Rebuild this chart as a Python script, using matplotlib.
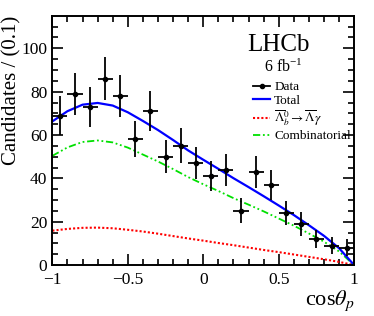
import numpy as np
import matplotlib
matplotlib.use("Agg")
import matplotlib.pyplot as plt
from matplotlib.lines import Line2D

plt.rcParams['font.family'] = ['Liberation Serif', 'DejaVu Serif']
plt.rcParams['mathtext.fontset'] = 'stix'

# --- data: 20 bins of width 0.1 ---
bin_centres = [-0.95, -0.85, -0.75, -0.65, -0.55, -0.45, -0.35, -0.25, -0.15, -0.05,
               0.05, 0.15, 0.25, 0.35, 0.45, 0.55, 0.65, 0.75, 0.85, 0.95]
counts = [69, 79, 73, 86, 78, 58, 71, 50, 55, 47,
          41, 44, 25, 43, 37, 24, 19, 12, 9, 8]
count_err = [9.2, 9.6, 9.3, 10.0, 9.6, 8.3, 9.2, 7.5, 8.1, 7.3,
             6.8, 7.4, 5.8, 7.4, 6.8, 5.6, 5.5, 4.2, 3.8, 4.0]
bin_half = [0.05] * 20

curve_x = [-1.0, -0.9, -0.8, -0.7, -0.6, -0.5, -0.4, -0.3, -0.2, -0.1,
           0.0, 0.1, 0.2, 0.3, 0.4, 0.5, 0.6, 0.7, 0.8, 0.9, 1.0]
total_fit = [66.3, 71.0, 74.0, 74.8, 73.6, 70.5, 66.5, 62.3, 57.7, 52.9,
             48.6, 44.4, 40.1, 36.0, 31.8, 27.5, 23.1, 18.4, 13.5, 7.8, 0.0]
signal_fit = [15.9, 16.7, 17.2, 17.3, 17.0, 16.3, 15.5, 14.5, 13.4, 12.3,
              11.3, 10.2, 9.2, 8.1, 7.0, 6.0, 4.9, 3.8, 2.7, 1.5, 0.0]
comb_fit = [50.4, 54.3, 56.8, 57.5, 56.6, 54.2, 51.0, 47.8, 44.3, 40.6,
            37.3, 34.2, 30.9, 27.9, 24.8, 21.5, 18.2, 14.6, 10.8, 6.3, 0.0]

green = '#00e000'
dashdotdot = (0, (4, 1.5, 1, 1.5, 1, 1.5))

fig = plt.figure(figsize=(3.74, 3.16), dpi=100)
ax = fig.add_axes([0.140, 0.161, 0.807, 0.789])

ax.plot(curve_x, signal_fit, color='#ff0000', lw=1.5, ls=(0, (1, 1)))
ax.plot(curve_x, comb_fit, color=green, lw=1.3, ls=dashdotdot)
ax.plot(curve_x, total_fit, color='#0000ff', lw=1.6)
ax.errorbar(bin_centres, counts, yerr=count_err, xerr=bin_half, fmt='o', color='black',
            ms=3, elinewidth=1.3, capsize=0, zorder=5)

ax.set_xlim(-1, 1)
ax.set_ylim(0, 115)
ax.set_xticks([-1, -0.5, 0, 0.5, 1])
ax.set_xticklabels(['\u22121', '\u22120.5', '0', '0.5', '1'])
ax.set_xticks(np.arange(-1, 1.01, 0.1), minor=True)
ax.set_yticks([0, 20, 40, 60, 80, 100])
ax.set_yticks(np.arange(0, 115, 5), minor=True)
ax.tick_params(which='both', direction='in', top=True, right=True, labelsize=12.5, width=1.2)
ax.tick_params(which='major', length=8, pad=5)
ax.tick_params(axis='y', which='major', pad=3.5)
ax.tick_params(which='minor', length=4)
for s in ax.spines.values():
    s.set_linewidth(1.4)

ax.set_ylabel('Candidates / (0.1)', fontsize=15, loc='top')
ax.yaxis.set_label_coords(-0.102, 1.0)
ax.set_xlabel(r'cos$\theta_p$', fontsize=16, loc='right', labelpad=0)

ax.text(0.75, 0.86, 'LHCb', transform=ax.transAxes, fontsize=18, ha='center')
ax.text(0.765, 0.775, r'6 fb$^{\mathregular{-1}}$', transform=ax.transAxes, fontsize=11.5, ha='center')

handles = [
    Line2D([], [], color='black', marker='o', ms=3, lw=1.3),
    Line2D([], [], color='#0000ff', lw=1.6),
    Line2D([], [], color='#ff0000', lw=1.5, ls=(0, (1, 1))),
    Line2D([], [], color=green, lw=1.3, ls=dashdotdot),
]
labels = ['Data', 'Total', r'$\overline{\Lambda}{}^0_b \to \overline{\Lambda}\gamma$', 'Combinatorial']
ax.legend(handles, labels, loc='upper left', bbox_to_anchor=(0.643, 0.765), frameon=False,
          fontsize=9.5, handlelength=1.3, handletextpad=0.3, labelspacing=0.12, borderpad=0)

fig.savefig('out.png', dpi=100)
